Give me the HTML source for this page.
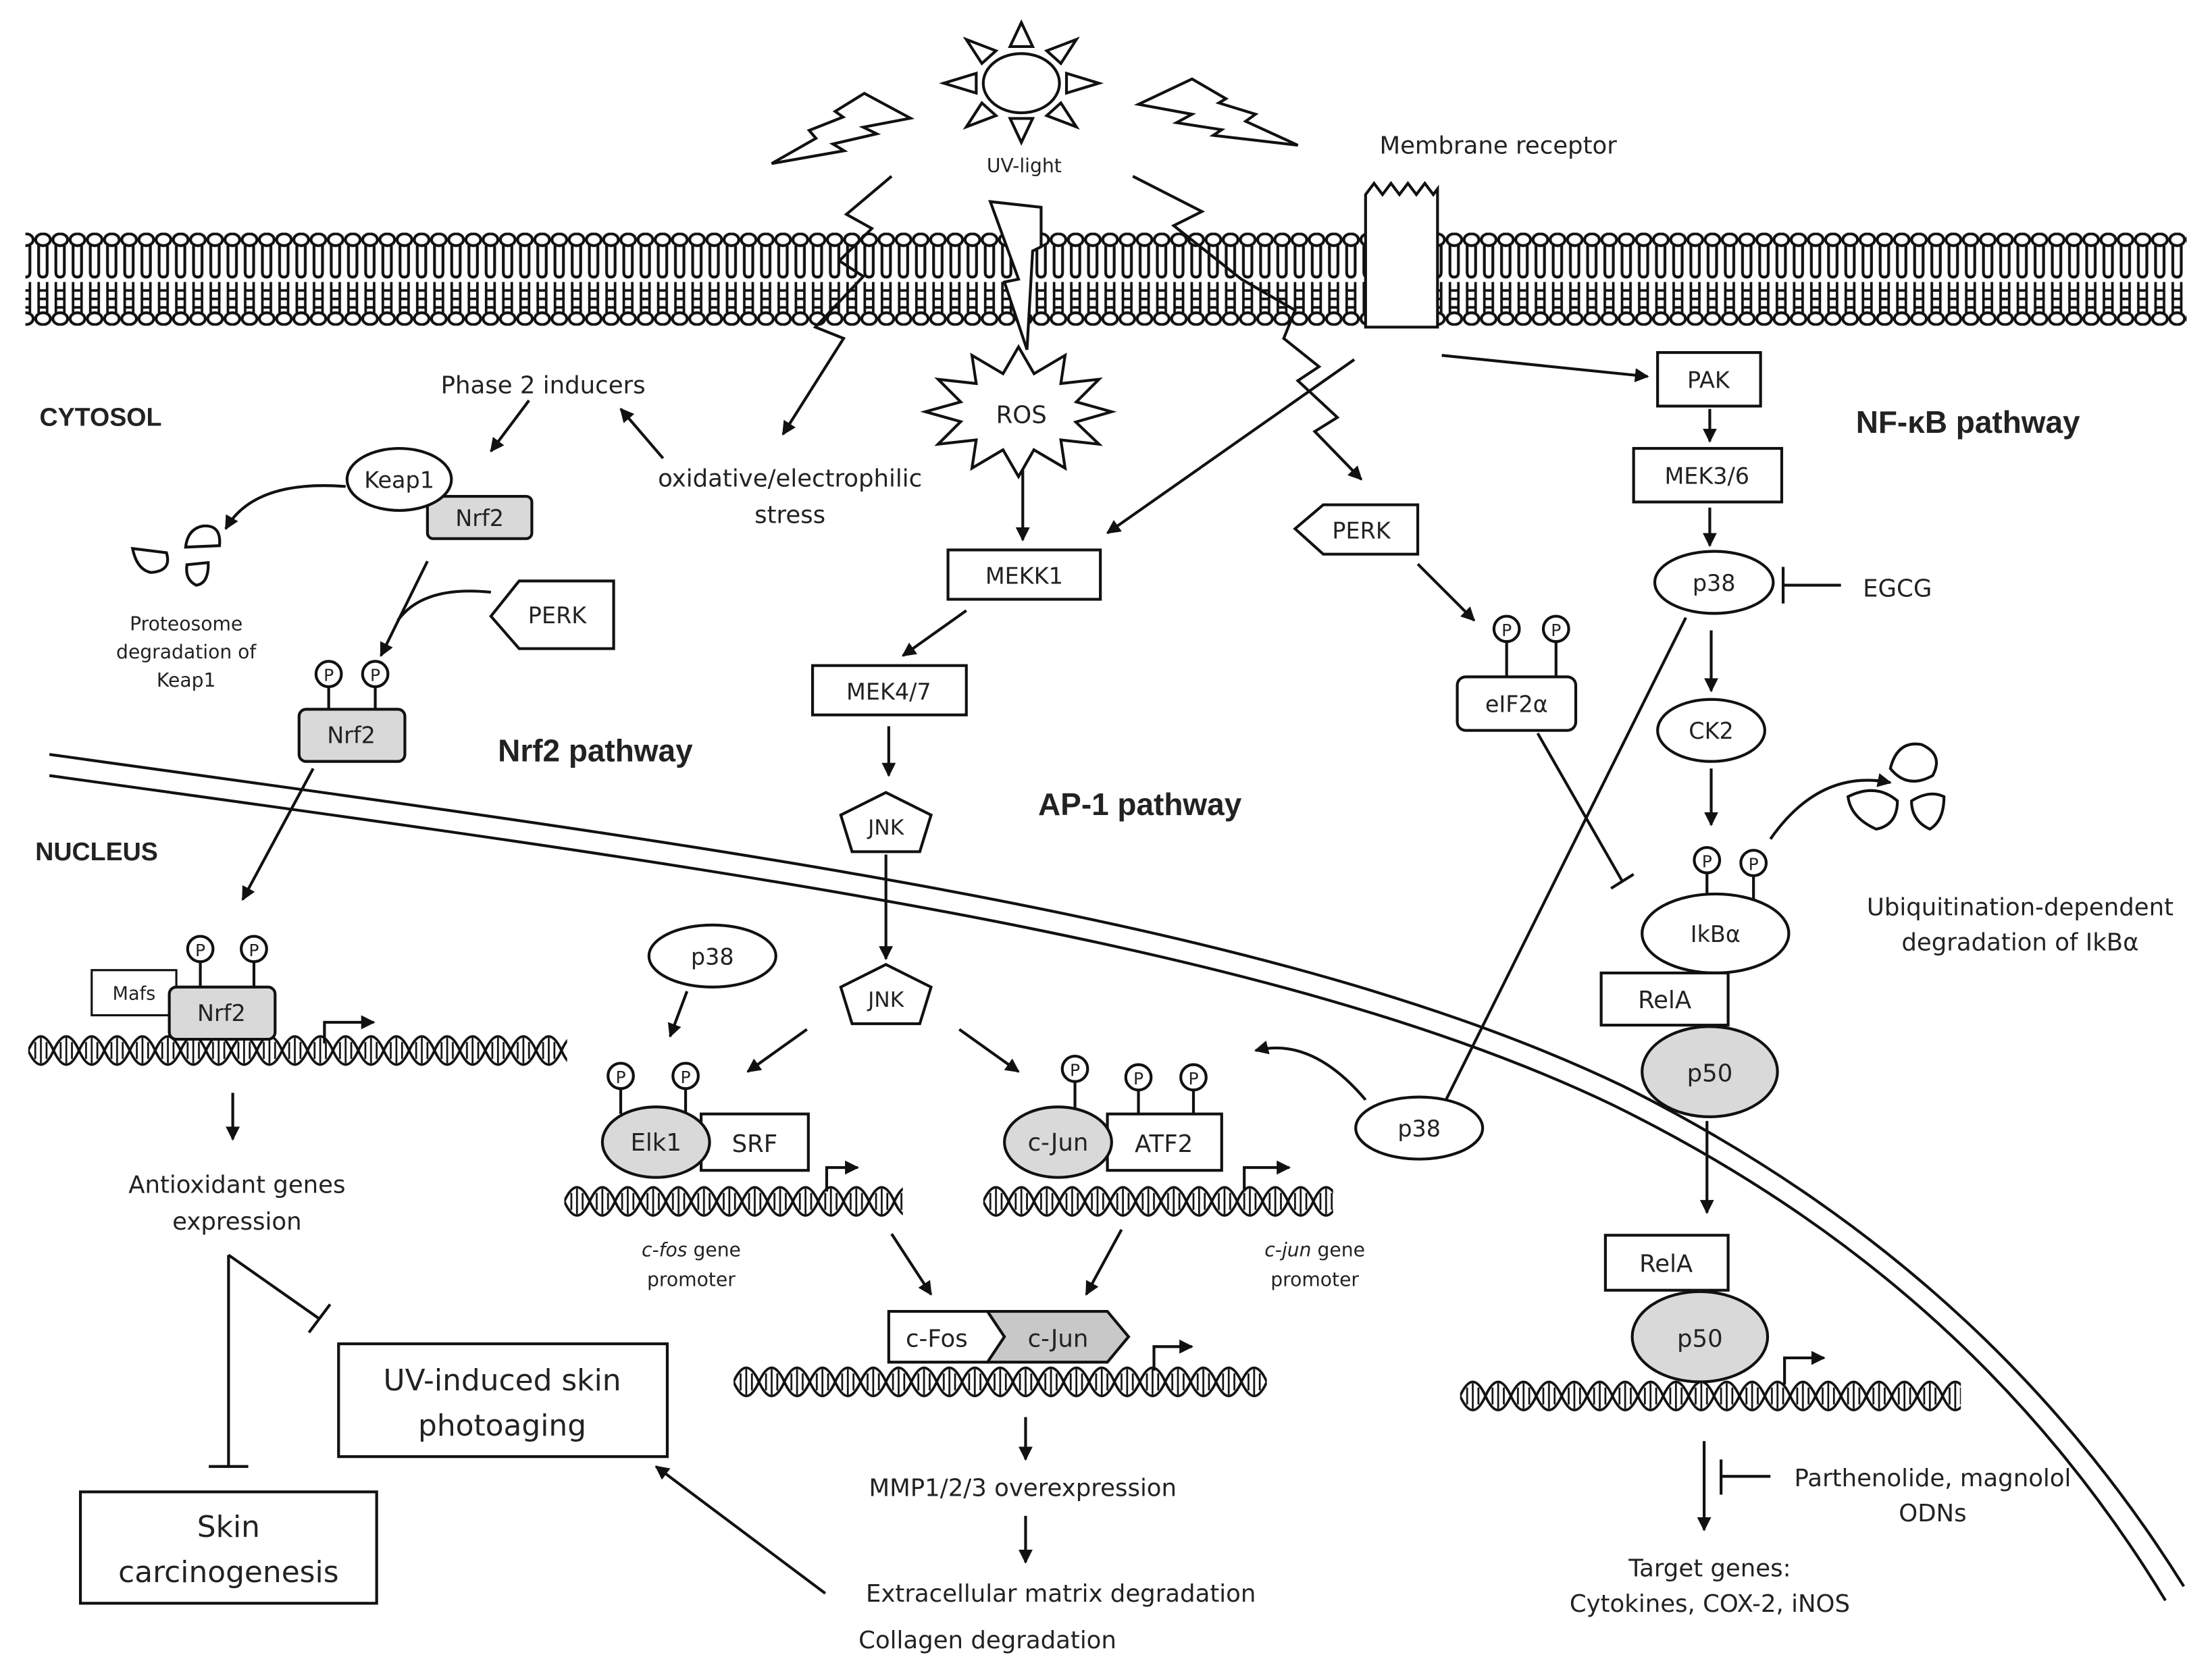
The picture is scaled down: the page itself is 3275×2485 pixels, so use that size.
<!DOCTYPE html>
<html><head><meta charset="utf-8">
<style>
html,body{margin:0;padding:0;background:#fff;}
svg{display:block;}
text{font-family:"DejaVu Sans","Liberation Sans",sans-serif;fill:#222;}
.b{font-weight:bold;font-family:"Liberation Sans","DejaVu Sans",sans-serif;}
</style></head><body>
<svg width="3275" height="2485" viewBox="0 0 1568 1190" preserveAspectRatio="none" xmlns="http://www.w3.org/2000/svg">
<defs>
<marker id="a" markerWidth="10" markerHeight="10" refX="9" refY="5" orient="auto" markerUnits="userSpaceOnUse">
<path d="M0,0 L10,5 L0,10 z" fill="#111"/></marker>
<pattern id="mem" x="0" y="165" width="12.2" height="66" patternUnits="userSpaceOnUse">
<ellipse cx="6.1" cy="5" rx="5.2" ry="4.2" fill="none" stroke="#111" stroke-width="2"/>
<path d="M3,9 V28 Q3,31.5 6,31.5 Q9,31.5 9,28 V9" fill="none" stroke="#111" stroke-width="2"/>
<path d="M3,35 V57 M9,35 V57 M3,41 H9 M3,47 H9 M3,53 H9" fill="none" stroke="#111" stroke-width="1.8"/>
<ellipse cx="6.1" cy="61" rx="5.2" ry="4.2" fill="none" stroke="#111" stroke-width="2"/>
</pattern>
<pattern id="dna" x="0" y="0" width="36" height="30" patternUnits="userSpaceOnUse">
<path d="M0,15 Q9,-5 18,15 Q27,35 36,15 M0,15 Q9,35 18,15 Q27,-5 36,15" fill="none" stroke="#111" stroke-width="1.8"/>
<path d="M5,9 V21 M9,6 V24 M13,9 V21 M23,9 V21 M27,6 V24 M31,9 V21" stroke="#111" stroke-width="1.3"/>
</pattern>
</defs>
<rect width="1568" height="1190" fill="#fff"/>

<!-- membrane -->
<rect x="18" y="165" width="1532" height="66" fill="url(#mem)"/>
<!-- receptor -->
<path d="M968,232 V138 l6,-8 l6,8 l6,-8 l6,8 l6,-8 l6,8 l6,-8 l6,8 l3,-4 V232 z" fill="#fff" stroke="#111" stroke-width="2"/>
<text x="1062" y="109" font-size="17" text-anchor="middle">Membrane receptor</text>

<!-- sun -->
<ellipse cx="724" cy="59" rx="27" ry="21" fill="#fff" stroke="#111" stroke-width="2"/>
<g fill="none" stroke="#111" stroke-width="2">
<path d="M716,33 L724,16 L732,33 z"/>
<path d="M716,84 L724,101 L732,84 z"/>
<path d="M692,52 L669,59 L692,66 z"/>
<path d="M756,52 L779,59 L756,66 z"/>
<path d="M685,28 L706,36 L696,45 z"/>
<path d="M763,28 L742,36 L752,45 z"/>
<path d="M685,90 L706,82 L696,73 z"/>
<path d="M763,90 L742,82 L752,73 z"/>
</g>
<path d="M547,116 L578.4,98.1 L573.6,92.5 L597.6,83 L592,79 L612.7,66.2 L645.4,83.8 L611.9,90.2 L621.5,94.9 L590.4,102.1 L598.4,106.9 z" fill="#fff" stroke="#111" stroke-width="2" stroke-linejoin="miter"/>
<path d="M807,74 L845,56 L869,70 L864,73 L890,81 L883,86 L920,103 L860,96 L866,92 L834,87 L845,81 z" fill="#fff" stroke="#111" stroke-width="2"/>
<text x="726" y="122" font-size="13.5" text-anchor="middle">UV-light</text>

<!-- lightning into ROS -->
<path d="M702,143 L738,147 L738,175 L732,178 L728,248 L712,200 L722,198 z" fill="#fff" stroke="#111" stroke-width="2"/>
<!-- zigzags -->
<path d="M632,125 L600,152 L618,162 L595,185 L612,196 L578,232 L598,240 L555,308" fill="none" stroke="#111" stroke-width="2" marker-end="url(#a)"/>
<path d="M803,125 L852,150 L832,160 L880,198 L918,220 L910,240 L935,260 L920,270 L948,296 L932,306 L965,340" fill="none" stroke="#111" stroke-width="2" marker-end="url(#a)"/>
<!-- ROS star -->
<path d="M788,292 L762.6,299.3 L779,315 L752,312 L755,332 L732.9,319 L722,338 L711,319 L689,332 L692,312 L665,315 L681,299 L656,292 L681,285 L665,269 L692,272 L689,252 L711,265 L722,246 L733,265 L755,252 L752,272 L779,269 L763,285 z" fill="#fff" stroke="#111" stroke-width="2"/>
<text x="724" y="300" font-size="17" text-anchor="middle">ROS</text>

<text x="28" y="302" font-size="18" class="b">CYTOSOL</text>
<text x="25" y="610" font-size="18" class="b">NUCLEUS</text>
<text x="385" y="279" font-size="17" text-anchor="middle">Phase 2 inducers</text>
<text x="560" y="345" font-size="17" text-anchor="middle">oxidative/electrophilic</text>
<text x="560" y="371" font-size="17" text-anchor="middle">stress</text>
<line x1="470" y1="325" x2="440" y2="290" stroke="#111" stroke-width="2" marker-end="url(#a)"/>
<line x1="375" y1="284" x2="348" y2="320" stroke="#111" stroke-width="2" marker-end="url(#a)"/>

<!-- Keap1/Nrf2 -->
<rect x="303" y="352" width="74" height="30" rx="4" fill="#d9d9d9" stroke="#111" stroke-width="2"/>
<text x="340" y="373" font-size="16" text-anchor="middle">Nrf2</text>
<ellipse cx="283" cy="340" rx="37" ry="22" fill="#fff" stroke="#111" stroke-width="2"/>
<text x="283" y="346" font-size="16" text-anchor="middle">Keap1</text>
<path d="M245,345 Q180,340 160,375" fill="none" stroke="#111" stroke-width="2" marker-end="url(#a)"/>
<g fill="#fff" stroke="#111" stroke-width="2">
<path d="M94,389 L118,392 Q122,405 107,406 Q97,404 94,389 z"/>
<path d="M131.6,388 L155.6,387 Q157,372 144,373 Q133,375 131.6,388 z"/>
<path d="M132.5,400.5 L147.6,399 Q148,414 139,415 Q131,411 132.5,400.5 z"/>
</g>
<text x="132" y="447" font-size="13.5" text-anchor="middle">Proteosome</text>
<text x="132" y="467" font-size="13.5" text-anchor="middle">degradation of</text>
<text x="132" y="487" font-size="13.5" text-anchor="middle">Keap1</text>
<line x1="303" y1="398" x2="270" y2="465" stroke="#111" stroke-width="2" marker-end="url(#a)"/>
<path d="M348,420 Q300,415 282,440" fill="none" stroke="#111" stroke-width="2"/>
<path d="M348,437 L368,412 L435,412 L435,460 L368,460 z" fill="#fff" stroke="#111" stroke-width="2"/>
<text x="395" y="442" font-size="16" text-anchor="middle">PERK</text>
<!-- P Nrf2 -->
<g stroke="#111" stroke-width="2" fill="#fff">
<line x1="233" y1="487" x2="233" y2="503"/><line x1="266" y1="487" x2="266" y2="503"/>
<circle cx="233" cy="478" r="9"/><circle cx="266" cy="478" r="9"/>
</g>
<text x="233" y="483" font-size="12" text-anchor="middle">P</text><text x="266" y="483" font-size="12" text-anchor="middle">P</text>
<rect x="212" y="503" width="75" height="37" rx="5" fill="#d9d9d9" stroke="#111" stroke-width="2"/>
<text x="249" y="527" font-size="16" text-anchor="middle">Nrf2</text>
<text x="422" y="540" font-size="22" class="b" text-anchor="middle">Nrf2 pathway</text>
<line x1="222" y1="545" x2="172" y2="638" stroke="#111" stroke-width="2" marker-end="url(#a)"/>

<!-- nuclear membrane -->
<path d="M35,535 C500,600 900,650 1150,770 C1350,870 1470,1000 1548,1125" fill="none" stroke="#111" stroke-width="2"/>
<path d="M35,550 C500,615 895,665 1142,783 C1340,880 1458,1008 1535,1135" fill="none" stroke="#111" stroke-width="2"/>

<!-- Nrf2 in nucleus -->
<g transform="translate(20,730)"><rect width="382" height="30" fill="url(#dna)"/></g>
<path d="M230,740 V725 H265" fill="none" stroke="#111" stroke-width="2" marker-end="url(#a)"/>
<rect x="65" y="688" width="60" height="32" fill="#fff" stroke="#111" stroke-width="1.5"/>
<text x="95" y="709" font-size="13" text-anchor="middle">Mafs</text>
<g stroke="#111" stroke-width="2" fill="#fff">
<line x1="142" y1="682" x2="142" y2="700"/><line x1="180" y1="682" x2="180" y2="700"/>
<circle cx="142" cy="673" r="9"/><circle cx="180" cy="673" r="9"/>
</g>
<text x="142" y="678" font-size="12" text-anchor="middle">P</text><text x="180" y="678" font-size="12" text-anchor="middle">P</text>
<rect x="120" y="700" width="75" height="37" rx="5" fill="#d9d9d9" stroke="#111" stroke-width="2"/>
<text x="157" y="724" font-size="16" text-anchor="middle">Nrf2</text>
<line x1="165" y1="775" x2="165" y2="808" stroke="#111" stroke-width="2" marker-end="url(#a)"/>
<text x="168" y="846" font-size="17" text-anchor="middle">Antioxidant genes</text>
<text x="168" y="872" font-size="17" text-anchor="middle">expression</text>
<path d="M162,890 V1040 M148,1040 H176" fill="none" stroke="#111" stroke-width="2"/>
<path d="M162,890 L226,935 M219,945 L234,925" fill="none" stroke="#111" stroke-width="2"/>
<rect x="240" y="953" width="233" height="80" fill="#fff" stroke="#111" stroke-width="2"/>
<text x="356" y="986" font-size="21" text-anchor="middle">UV-induced skin</text>
<text x="356" y="1018" font-size="21" text-anchor="middle">photoaging</text>
<rect x="57" y="1058" width="210" height="79" fill="#fff" stroke="#111" stroke-width="2"/>
<text x="162" y="1090" font-size="21" text-anchor="middle">Skin</text>
<text x="162" y="1122" font-size="21" text-anchor="middle">carcinogenesis</text>
<line x1="585" y1="1130" x2="465" y2="1040" stroke="#111" stroke-width="2" marker-end="url(#a)"/>

<!-- AP-1 -->
<line x1="725" y1="333" x2="725" y2="383" stroke="#111" stroke-width="2" marker-end="url(#a)"/>
<line x1="960" y1="255" x2="785" y2="378" stroke="#111" stroke-width="2" marker-end="url(#a)"/>
<rect x="672" y="390" width="108" height="35" fill="#fff" stroke="#111" stroke-width="2"/>
<text x="726" y="414" font-size="16" text-anchor="middle">MEKK1</text>
<line x1="685" y1="433" x2="640" y2="465" stroke="#111" stroke-width="2" marker-end="url(#a)"/>
<rect x="576" y="472" width="109" height="35" fill="#fff" stroke="#111" stroke-width="2"/>
<text x="630" y="496" font-size="16" text-anchor="middle">MEK4/7</text>
<line x1="630" y1="515" x2="630" y2="550" stroke="#111" stroke-width="2" marker-end="url(#a)"/>
<path d="M628,562 L660,578 L652,604 L604,604 L596,578 z" fill="#fff" stroke="#111" stroke-width="2"/>
<text x="628" y="592" font-size="15" text-anchor="middle">JNK</text>
<line x1="628" y1="606" x2="628" y2="680" stroke="#111" stroke-width="2" marker-end="url(#a)"/>
<path d="M628,684 L660,700 L652,726 L604,726 L596,700 z" fill="#fff" stroke="#111" stroke-width="2"/>
<text x="628" y="714" font-size="15" text-anchor="middle">JNK</text>
<text x="808" y="578" font-size="22" class="b" text-anchor="middle">AP-1 pathway</text>
<line x1="572" y1="730" x2="530" y2="760" stroke="#111" stroke-width="2" marker-end="url(#a)"/>
<line x1="680" y1="730" x2="722" y2="760" stroke="#111" stroke-width="2" marker-end="url(#a)"/>
<ellipse cx="505" cy="678" rx="45" ry="22" fill="#fff" stroke="#111" stroke-width="2"/>
<text x="505" y="684" font-size="16" text-anchor="middle">p38</text>
<line x1="487" y1="703" x2="475" y2="735" stroke="#111" stroke-width="2" marker-end="url(#a)"/>

<g stroke="#111" stroke-width="2" fill="#fff">
<line x1="440" y1="772" x2="440" y2="790"/><line x1="486" y1="772" x2="486" y2="790"/>
<circle cx="440" cy="763" r="9"/><circle cx="486" cy="763" r="9"/>
<line x1="762" y1="767" x2="762" y2="790"/><line x1="807" y1="773" x2="807" y2="790"/><line x1="846" y1="773" x2="846" y2="790"/>
<circle cx="762" cy="758" r="9"/><circle cx="807" cy="764" r="9"/><circle cx="846" cy="764" r="9"/>
</g>
<text x="440" y="768" font-size="12" text-anchor="middle">P</text><text x="486" y="768" font-size="12" text-anchor="middle">P</text>
<text x="762" y="763" font-size="12" text-anchor="middle">P</text><text x="807" y="769" font-size="12" text-anchor="middle">P</text><text x="846" y="769" font-size="12" text-anchor="middle">P</text>
<rect x="497" y="790" width="76" height="40" fill="#fff" stroke="#111" stroke-width="2"/>
<text x="535" y="817" font-size="17" text-anchor="middle">SRF</text>
<ellipse cx="465" cy="810" rx="38" ry="25" fill="#d9d9d9" stroke="#111" stroke-width="2"/>
<text x="465" y="816" font-size="17" text-anchor="middle">Elk1</text>
<rect x="785" y="790" width="81" height="40" fill="#fff" stroke="#111" stroke-width="2"/>
<text x="825" y="817" font-size="17" text-anchor="middle">ATF2</text>
<ellipse cx="750" cy="810" rx="38" ry="25" fill="#d9d9d9" stroke="#111" stroke-width="2"/>
<text x="750" y="816" font-size="17" text-anchor="middle">c-Jun</text>

<g transform="translate(400,837)"><rect width="240" height="30" fill="url(#dna)"/></g>
<g transform="translate(697,837)"><rect width="248" height="30" fill="url(#dna)"/></g>
<path d="M586,845 V828 H608" fill="none" stroke="#111" stroke-width="2" marker-end="url(#a)"/>
<path d="M882,845 V828 H914" fill="none" stroke="#111" stroke-width="2" marker-end="url(#a)"/>
<text x="490" y="891" font-size="13.5" text-anchor="middle"><tspan font-style="italic">c-fos</tspan> gene</text>
<text x="490" y="912" font-size="13.5" text-anchor="middle">promoter</text>
<text x="932" y="891" font-size="13.5" text-anchor="middle"><tspan font-style="italic">c-jun</tspan> gene</text>
<text x="932" y="912" font-size="13.5" text-anchor="middle">promoter</text>
<line x1="632" y1="875" x2="660" y2="918" stroke="#111" stroke-width="2" marker-end="url(#a)"/>
<line x1="795" y1="872" x2="770" y2="918" stroke="#111" stroke-width="2" marker-end="url(#a)"/>
<path d="M630,930 H700 L712,948 L700,966 H630 z" fill="#fff" stroke="#111" stroke-width="2"/>
<path d="M700,930 H785 L800,948 L785,966 H700 L712,948 z" fill="#c8c8c8" stroke="#111" stroke-width="2"/>
<text x="664" y="955" font-size="17" text-anchor="middle">c-Fos</text>
<text x="750" y="955" font-size="17" text-anchor="middle">c-Jun</text>
<g transform="translate(520,965)"><rect width="378" height="30" fill="url(#dna)"/></g>
<path d="M818,972 V955 H845" fill="none" stroke="#111" stroke-width="2" marker-end="url(#a)"/>
<line x1="727" y1="1005" x2="727" y2="1035" stroke="#111" stroke-width="2" marker-end="url(#a)"/>
<text x="725" y="1061" font-size="17" text-anchor="middle">MMP1/2/3 overexpression</text>
<line x1="727" y1="1075" x2="727" y2="1108" stroke="#111" stroke-width="2" marker-end="url(#a)"/>
<text x="752" y="1136" font-size="17" text-anchor="middle">Extracellular matrix degradation</text>
<text x="700" y="1169" font-size="17" text-anchor="middle">Collagen degradation</text>

<!-- p38 nucleus -->
<path d="M968,780 Q930,735 890,745" fill="none" stroke="#111" stroke-width="2" marker-end="url(#a)"/>
<line x1="1195" y1="438" x2="1025" y2="780" stroke="#111" stroke-width="2"/>
<ellipse cx="1006" cy="800" rx="45" ry="22" fill="#fff" stroke="#111" stroke-width="2"/>
<text x="1006" y="806" font-size="16" text-anchor="middle">p38</text>

<!-- PERK right / eIF2a -->
<path d="M918,375 L938,358 L1005,358 L1005,393 L938,393 z" fill="#fff" stroke="#111" stroke-width="2"/>
<text x="965" y="382" font-size="16" text-anchor="middle">PERK</text>
<line x1="1005" y1="400" x2="1045" y2="440" stroke="#111" stroke-width="2" marker-end="url(#a)"/>
<g stroke="#111" stroke-width="2" fill="#fff">
<line x1="1068" y1="455" x2="1068" y2="480"/><line x1="1103" y1="455" x2="1103" y2="480"/>
<circle cx="1068" cy="446" r="9"/><circle cx="1103" cy="446" r="9"/>
</g>
<text x="1068" y="451" font-size="12" text-anchor="middle">P</text><text x="1103" y="451" font-size="12" text-anchor="middle">P</text>
<rect x="1033" y="480" width="84" height="38" rx="6" fill="#fff" stroke="#111" stroke-width="2"/>
<text x="1075" y="505" font-size="16" text-anchor="middle">eIF2α</text>
<path d="M1090,520 L1150,625 M1142,630 L1158,620" fill="none" stroke="#111" stroke-width="2"/>

<!-- NF-kB -->
<line x1="1022" y1="252" x2="1168" y2="267" stroke="#111" stroke-width="2" marker-end="url(#a)"/>
<rect x="1175" y="250" width="73" height="38" fill="#fff" stroke="#111" stroke-width="2"/>
<text x="1211" y="275" font-size="16" text-anchor="middle">PAK</text>
<text x="1395" y="307" font-size="22" class="b" text-anchor="middle">NF-κB pathway</text>
<line x1="1212" y1="290" x2="1212" y2="313" stroke="#111" stroke-width="2" marker-end="url(#a)"/>
<rect x="1158" y="318" width="105" height="38" fill="#fff" stroke="#111" stroke-width="2"/>
<text x="1210" y="343" font-size="16" text-anchor="middle">MEK3/6</text>
<line x1="1212" y1="360" x2="1212" y2="387" stroke="#111" stroke-width="2" marker-end="url(#a)"/>
<ellipse cx="1215" cy="413" rx="42" ry="22" fill="#fff" stroke="#111" stroke-width="2"/>
<text x="1215" y="419" font-size="16" text-anchor="middle">p38</text>
<path d="M1305,415 H1264 M1264,402 V428" fill="none" stroke="#111" stroke-width="2"/>
<text x="1345" y="423" font-size="17" text-anchor="middle">EGCG</text>
<line x1="1213" y1="447" x2="1213" y2="490" stroke="#111" stroke-width="2" marker-end="url(#a)"/>
<ellipse cx="1213" cy="518" rx="38" ry="22" fill="#fff" stroke="#111" stroke-width="2"/>
<text x="1213" y="524" font-size="16" text-anchor="middle">CK2</text>
<line x1="1213" y1="545" x2="1213" y2="585" stroke="#111" stroke-width="2" marker-end="url(#a)"/>
<path d="M1255,595 Q1290,545 1340,555" fill="none" stroke="#111" stroke-width="2" marker-end="url(#a)"/>
<g fill="#fff" stroke="#111" stroke-width="2">
<path d="M1340,545 Q1345,525 1362,528 Q1378,535 1370,550 Q1352,560 1340,545 z"/>
<path d="M1310,565 Q1330,555 1345,568 Q1345,585 1330,588 Q1312,580 1310,565 z"/>
<path d="M1355,568 Q1368,560 1378,565 Q1378,582 1368,588 Q1355,582 1355,568 z"/>
</g>
<text x="1432" y="649" font-size="17" text-anchor="middle">Ubiquitination-dependent</text>
<text x="1432" y="674" font-size="17" text-anchor="middle">degradation of IkBα</text>
<g stroke="#111" stroke-width="2" fill="#fff">
<line x1="1210" y1="619" x2="1210" y2="636"/><line x1="1243" y1="621" x2="1243" y2="638"/>
<circle cx="1210" cy="610" r="9"/><circle cx="1243" cy="612" r="9"/>
</g>
<text x="1210" y="615" font-size="12" text-anchor="middle">P</text><text x="1243" y="617" font-size="12" text-anchor="middle">P</text>
<ellipse cx="1216" cy="662" rx="52" ry="28" fill="#fff" stroke="#111" stroke-width="2"/>
<text x="1216" y="668" font-size="16" text-anchor="middle">IkBα</text>
<rect x="1135" y="690" width="90" height="37" fill="#fff" stroke="#111" stroke-width="2"/>
<text x="1180" y="715" font-size="17" text-anchor="middle">RelA</text>
<ellipse cx="1212" cy="760" rx="48" ry="32" fill="#d9d9d9" stroke="#111" stroke-width="2"/>
<text x="1212" y="767" font-size="17" text-anchor="middle">p50</text>
<line x1="1210" y1="795" x2="1210" y2="860" stroke="#111" stroke-width="2" marker-end="url(#a)"/>
<rect x="1138" y="876" width="87" height="39" fill="#fff" stroke="#111" stroke-width="2"/>
<text x="1181" y="902" font-size="17" text-anchor="middle">RelA</text>
<ellipse cx="1205" cy="948" rx="48" ry="32" fill="#d9d9d9" stroke="#111" stroke-width="2"/>
<text x="1205" y="955" font-size="17" text-anchor="middle">p50</text>
<g transform="translate(1035,975)"><rect width="355" height="30" fill="url(#dna)"/></g>
<path d="M1265,982 V963 H1293" fill="none" stroke="#111" stroke-width="2" marker-end="url(#a)"/>
<line x1="1208" y1="1022" x2="1208" y2="1085" stroke="#111" stroke-width="2" marker-end="url(#a)"/>
<path d="M1255,1047 H1220 M1220,1035 V1060" fill="none" stroke="#111" stroke-width="2"/>
<text x="1370" y="1054" font-size="17" text-anchor="middle">Parthenolide, magnolol</text>
<text x="1370" y="1079" font-size="17" text-anchor="middle">ODNs</text>
<text x="1212" y="1118" font-size="17" text-anchor="middle">Target genes:</text>
<text x="1212" y="1143" font-size="17" text-anchor="middle">Cytokines, COX-2, iNOS</text>
</svg>
</body></html>
